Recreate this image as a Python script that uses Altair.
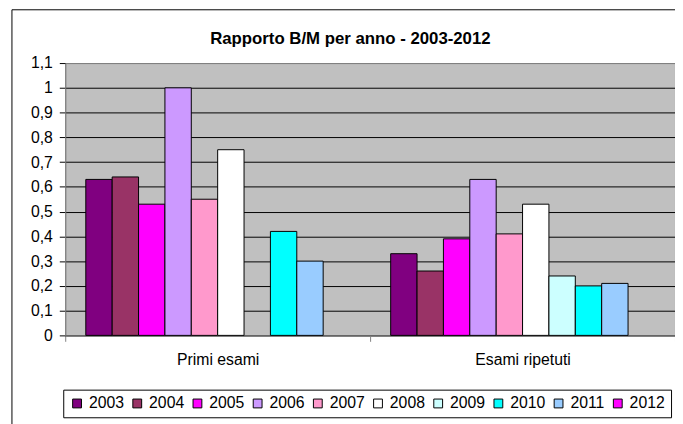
import altair as alt
import pandas as pd

groups = ["Primi esami", "Esami ripetuti"]
years = ["2003", "2004", "2005", "2006", "2007", "2008", "2009", "2010", "2011", "2012"]
primi = [0.63, 0.64, 0.53, 1.00, 0.55, 0.75, None, 0.42, 0.30, None]
ripetuti = [0.33, 0.26, 0.39, 0.63, 0.41, 0.53, 0.24, 0.20, 0.21, None]
colors = ["#800080", "#993366", "#FF00FF", "#CC99FF", "#FF99CC",
          "#FFFFFF", "#CCFFFF", "#00FFFF", "#99CCFF", "#FF00FF"]
y_ticks = [0, 0.1, 0.2, 0.3, 0.4, 0.5, 0.6, 0.7, 0.8, 0.9, 1.0, 1.1]
title_text = "Rapporto B/M per anno - 2003-2012"

rows = []
for g, vals in zip(groups, [primi, ripetuti]):
    for y, v in zip(years, vals):
        if v is not None:
            rows.append({"group": g, "year": y, "value": v})
df = pd.DataFrame(rows)

FONT = "Liberation Sans"

bars = alt.Chart(df).mark_bar(stroke="black", strokeWidth=1).encode(
    x=alt.X("group:N", sort=groups,
            scale=alt.Scale(domain=groups, paddingInner=0, paddingOuter=0),
            axis=alt.Axis(title=None, labelAngle=0, labelFontSize=16, labelPadding=11,
                          tickBand="extent", tickSize=6, tickColor="#808080",
                          domainColor="#808080", labelColor="black", grid=False,
                          labelFont=FONT)),
    xOffset=alt.XOffset("year:N",
                        scale=alt.Scale(domain=years, paddingInner=0, paddingOuter=0.78)),
    y=alt.Y("value:Q", scale=alt.Scale(domain=[0, 1.1], nice=False),
            axis=alt.Axis(title=None, values=y_ticks,
                          labelExpr="replace(format(datum.value, '.2~f'), '.', ',')",
                          grid=True,
                          gridColor={"condition": {"test": "datum.value > 1.05", "value": "#808080"},
                                     "value": "black"},
                          gridWidth=1, tickColor="black", tickSize=6,
                          domainColor="#808080", labelFontSize=16, labelPadding=7,
                          labelColor="black", labelFont=FONT)),
    color=alt.Color("year:N", scale=alt.Scale(domain=years, range=colors),
                    legend=alt.Legend(title=None, orient="none", legendX=-2, legendY=331,
                                      direction="horizontal", columns=10,
                                      strokeColor="black", fillColor="white", padding=6,
                                      symbolType="square", symbolSize=80,
                                      symbolStrokeColor="black", symbolStrokeWidth=1,
                                      labelFontSize=16, labelOffset=4, columnPadding=5,
                                      labelColor="black", labelFont=FONT)),
)

frame = alt.Chart(pd.DataFrame({"k": [0]})).mark_rect(
    fillOpacity=0, stroke="black", strokeWidth=1
).encode(
    x=alt.value(-54), x2=alt.value(632), y=alt.value(-54), y2=alt.value(372)
)

chart = alt.layer(bars, frame).properties(
    width=618, height=276,
    autosize=alt.AutoSizeParams(type="none"),
    padding={"left": 58, "top": 53, "right": 0, "bottom": 87},
    title=alt.Title(title_text, fontSize=17, font=FONT, fontWeight="bold",
                    anchor="middle", dx=-20, offset=-39, color="black"),
).configure(background="white", font=FONT).configure_view(
    fill="#C0C0C0", stroke="#808080", strokeWidth=1
)

chart.save("out.html", embed_options={"renderer": "svg", "actions": False})
